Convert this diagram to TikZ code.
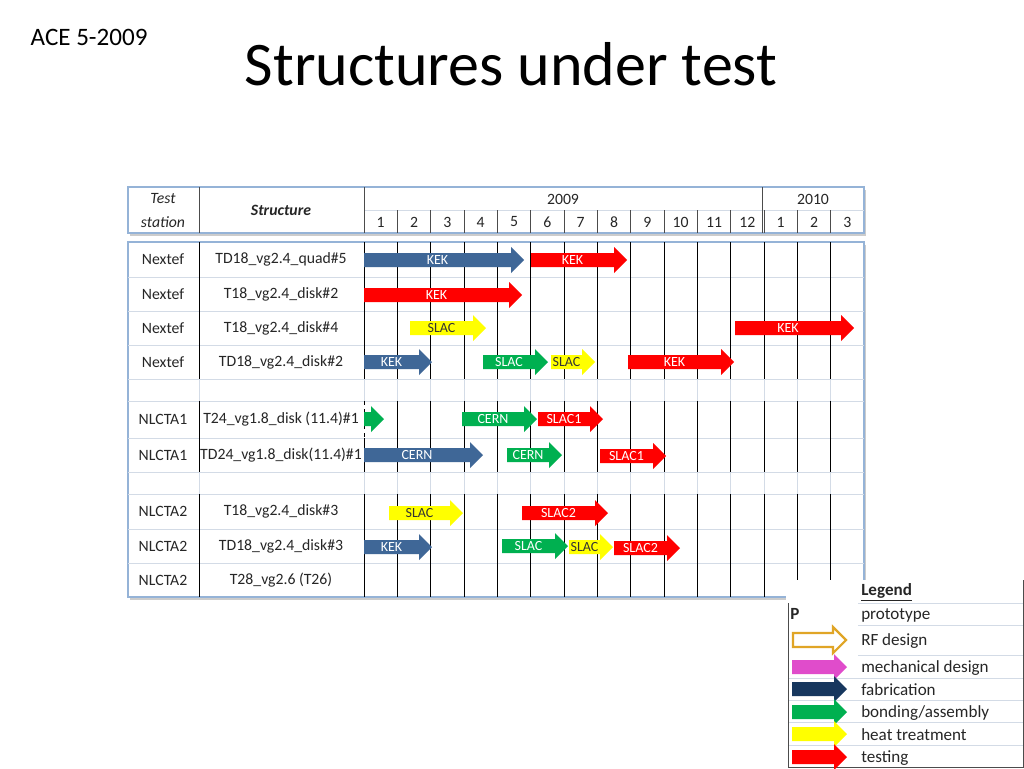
\documentclass[tikz,border=0pt]{standalone}
\usepackage{fontspec}
\setmainfont{Carlito}
\usetikzlibrary{positioning}

\definecolor{fabblue}{HTML}{3F6797}
\definecolor{bondgreen}{HTML}{00B050}
\definecolor{heatyellow}{HTML}{FFFF00}
\definecolor{testred}{HTML}{FF0000}
\definecolor{mechpink}{HTML}{E04CCB}
\definecolor{navy}{HTML}{17375E}
\definecolor{rfgold}{HTML}{E0A526}
\definecolor{frameblue}{HTML}{95B3D7}
\definecolor{rowline}{HTML}{D3DBE6}
\definecolor{ink}{HTML}{262626}

\tikzset{
	fabarrow/.style={fill=fabblue, text=white},
	bondarrow/.style={fill=bondgreen, text=white},
	heatarrow/.style={fill=heatyellow, text=black!80},
	testarrow/.style={fill=testred, text=white},
	mecharrow/.style={fill=mechpink},
	navyarrow/.style={fill=navy},
	rfarrow/.style={draw=rfgold, line width=1.6pt, fill=white},
	cell/.style={text=ink, font=\fontsize{11.8}{12}\selectfont, inner sep=0pt},
	lgtext/.style={text=ink, font=\fontsize{12.8}{13}\selectfont, anchor=west, inner sep=0pt},
}

% arrow: style, x start, x end, y, label, name
\newcommand{\taskarrow}[6]{%
	\path[#1] (#2,#4-7) -- (#3-13,#4-7) -- (#3-13,#4-13) -- (#3,#4)
		-- (#3-13,#4+13) -- (#3-13,#4+7) -- (#2,#4+7) -- cycle;
	\node[#1, fill=none, draw=none, inner sep=0pt, font=\fontsize{10.5}{11}\selectfont]
		(#6) at ({(#2+#3-13)/2},#4) {#5};
}

\begin{document}
\begin{tikzpicture}[x=0.75pt, y=-0.75pt,
		declare function = {
				mx(\m) = 364 + \m*100/3;
			},
	]
	\path[use as bounding box] (0,0) rectangle (1024,768);

	\node[anchor=base west, font=\fontsize{18.8}{20}\selectfont] (ace) at (26,45) {ACE 5-2009};
	\node[anchor=base, font=\fontsize{46.5}{50}\selectfont] (title) at (511,85) {Structures under test};

	% header
	\fill[black!20] (130,190) rectangle (866,236);
	\draw[frameblue, line width=1.2pt, fill=white] (128,187) rectangle (864,233);
	\draw[rowline] (364,210) -- (864,210);
	\foreach \x in {199,364,762}
		\draw[black!70] (\x,187) -- (\x,233);
	\foreach \m in {1,...,14}
		\draw[black!70] ({mx(\m)},210) -- ({mx(\m)},233);
	\node[cell, font=\fontsize{11.8}{12}\selectfont\itshape] (test) at (163,199) {Test};
	\node[cell, font=\fontsize{11.8}{12}\selectfont\itshape] (station) at (163,222) {station};
	\node[cell, font=\fontsize{11.8}{12}\selectfont\bfseries\itshape] (struct) at (281,210) {Structure};
	\node[cell] (y2009) at (563,199) {2009};
	\node[cell] (y2010) at (813,199) {2010};
	\foreach \l [count=\m] in {1,2,3,4,5,6,7,8,9,10,11,12,1,2,3}
		\node[cell] (mo\m) at ({mx(\m-0.5)},222) {\l};

	% body
	\fill[black!20] (130,245) rectangle (866,600);
	\draw[frameblue, line width=1.2pt, fill=white] (128,242) rectangle (864,597);
	\foreach \y in {277,311,345,379,401,438,472,494,529,563}
		\draw[rowline] (128,\y) -- (864,\y);
	\foreach \m in {1,...,14} {
		\draw ({mx(\m)},242) -- ({mx(\m)},379);
		\draw ({mx(\m)},401) -- ({mx(\m)},472);
		\draw ({mx(\m)},494) -- ({mx(\m)},597);
		\draw[rowline] ({mx(\m)},379) -- ({mx(\m)},401) ({mx(\m)},472) -- ({mx(\m)},494);
	}
	\draw (199,242) -- (199,379) (199,401) -- (199,472) (199,494) -- (199,597);
	\draw (364,242) -- (364,379) (364,438) -- (364,472) (364,494) -- (364,597);
	\draw[dashed] (364,401) -- (364,438);
	\draw[rowline] (199,379) -- (199,401) (364,379) -- (364,401)
		(199,472) -- (199,494) (364,472) -- (364,494);

	\foreach \y/\st/\sn [count=\i] in {
			259.5/Nextef/{TD18\_vg2.4\_quad\#5},
			294/Nextef/{T18\_vg2.4\_disk\#2},
			328/Nextef/{T18\_vg2.4\_disk\#4},
			362/Nextef/{TD18\_vg2.4\_disk\#2},
			419.5/NLCTA1/{T24\_vg1.8\_disk (11.4)\#1},
			455/NLCTA1/{TD24\_vg1.8\_disk(11.4)\#1},
			511.5/NLCTA2/{T18\_vg2.4\_disk\#3},
			546/NLCTA2/{TD18\_vg2.4\_disk\#3},
			580/NLCTA2/{T28\_vg2.6 (T26)}} {
		\node[cell] (st\i) at (163,\y) {\st};
		\node[cell] (sn\i) at (281,\y) {\sn};
	}

	% bars
	\taskarrow{fabarrow}{364}{524}{260}{KEK}{a1}
	\taskarrow{testarrow}{531}{627}{260}{KEK}{a2}
	\taskarrow{testarrow}{364}{522}{295}{KEK}{b1}
	\taskarrow{heatarrow}{410}{486}{328}{SLAC}{c1}
	\taskarrow{testarrow}{735}{854}{328}{KEK}{c2}
	\taskarrow{fabarrow}{364}{432}{362}{KEK}{d1}
	\taskarrow{bondarrow}{483}{548}{362}{SLAC}{d2}
	\taskarrow{heatarrow}{551}{595}{362}{SLAC}{d3}
	\taskarrow{testarrow}{628}{734}{362}{KEK}{d4}
	\taskarrow{bondarrow}{364}{384}{419}{}{e1}
	\taskarrow{bondarrow}{462}{537}{419}{CERN}{e2}
	\taskarrow{testarrow}{538}{603}{419}{SLAC1}{e3}
	\taskarrow{fabarrow}{364}{483}{455}{CERN}{f1}
	\taskarrow{bondarrow}{507}{562}{455}{CERN}{f2}
	\taskarrow{testarrow}{600}{666}{456}{SLAC1}{f3}
	\taskarrow{heatarrow}{389}{463}{513}{SLAC}{g1}
	\taskarrow{testarrow}{522}{608}{513}{SLAC2}{g2}
	\taskarrow{fabarrow}{364}{432}{547}{KEK}{h1}
	\taskarrow{bondarrow}{502}{568}{546}{SLAC}{h2}
	\taskarrow{heatarrow}{569}{613}{547}{SLAC}{h3}
	\taskarrow{testarrow}{614}{680}{548}{SLAC2}{h4}

	% legend
	\fill[white] (786,580) rectangle (1024,768);
	\foreach \y in {603,625,655}
		\draw[rowline] (858,\y) -- (1024,\y);
	\foreach \y in {678,700,722,745}
		\draw[rowline] (788,\y) -- (1024,\y);
	\draw[black!70] (788,603) -- (788,767) -- (1023,767) -- (1023,580);
	\node[lgtext, font=\fontsize{12.8}{13}\selectfont\bfseries] (lgtitle) at (861,592) {\underline{Legend}};
	\node[lgtext, font=\fontsize{12.8}{13}\selectfont\bfseries] (proto) at (790,614) {P};
	\node[lgtext] (lprot) at (861,615) {prototype};
	\taskarrow{rfarrow}{793}{846}{640}{}{lg1}
	\node[lgtext] (lrf) at (861,641) {RF design};
	\taskarrow{mecharrow}{792}{847}{667}{}{lg2}
	\node[lgtext] (lmech) at (861,668) {mechanical design};
	\taskarrow{navyarrow}{792}{847}{689}{}{lg3}
	\node[lgtext] (lfab) at (861,690) {fabrication};
	\taskarrow{bondarrow}{792}{847}{712}{}{lg4}
	\node[lgtext] (lbond) at (861,713) {bonding/assembly};
	\taskarrow{heatarrow}{792}{847}{734}{}{lg5}
	\node[lgtext] (lheat) at (861,735) {heat treatment};
	\taskarrow{testarrow}{792}{847}{757}{}{lg6}
	\node[lgtext] (ltest) at (861,758) {testing};
\end{tikzpicture}
\end{document}
